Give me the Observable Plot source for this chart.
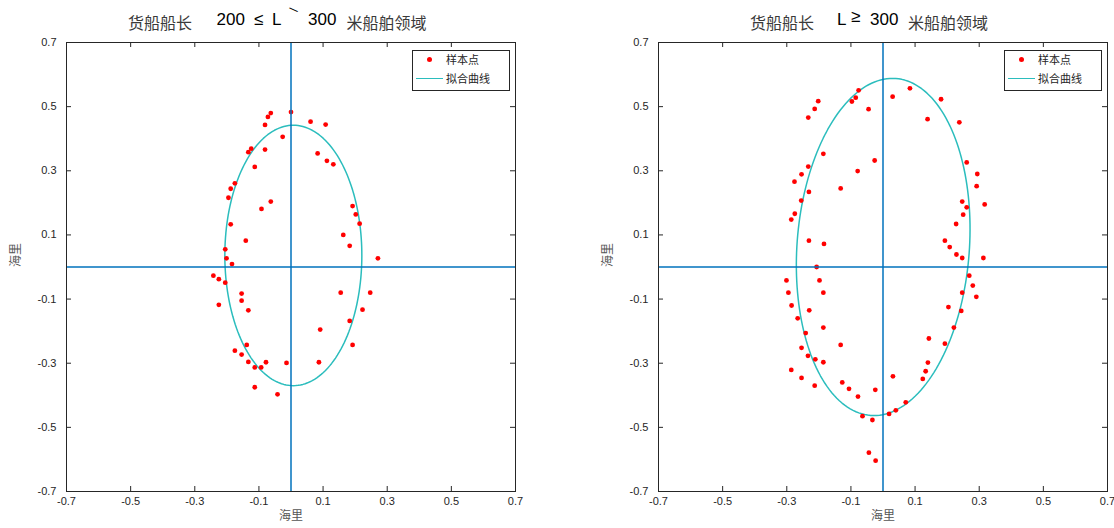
<!DOCTYPE html>
<html>
<head>
<meta charset="utf-8">
<script src="https://cdn.jsdelivr.net/npm/d3@7"></script>
<script src="https://cdn.jsdelivr.net/npm/@observablehq/plot@0.6"></script>
<style>
  html, body { margin: 0; padding: 0; background: #fff; }
  #root { position: relative; width: 1114px; height: 528px; overflow: hidden; background: #fff; }
  .chart { position: absolute; top: 0; }
  .t { position: absolute; white-space: pre; line-height: normal; }
  .cjk { font-family: "Noto Sans CJK SC", sans-serif; font-size: 16px; color: #3a3a3a; }
  .num { font-family: "Liberation Sans", Arial, sans-serif; font-size: 17px; color: #000; }
  .legend { position: absolute; width: 96px; height: 39px; border: 1px solid #262626; background: #fff; }
  .legend .lt { position: absolute; left: 33px; font-family: "Noto Sans CJK SC", sans-serif; font-size: 11px; color: #262626; line-height: normal; white-space: pre; }
  .legend .dotsw { position: absolute; left: 14px; top: 6px; width: 5px; height: 5px; border-radius: 50%; background: #ff0000; }
  .legend .linesw { position: absolute; left: 3px; top: 27px; width: 27px; height: 0; border-top: 1.5px solid #2bbdbd; }
</style>
</head>
<body>
<div id="root"></div>
<script>
// ---------- data ----------
const xTicks = [-0.7, -0.5, -0.3, -0.1, 0.1, 0.3, 0.5, 0.7];
const yTicks = [-0.7, -0.5, -0.3, -0.1, 0.1, 0.3, 0.5, 0.7];

// Left: 200 <= L ~ 300 sample points (nautical miles)
const leftX = [0.000, -0.063, -0.072, -0.081, 0.061, 0.108, -0.026, 0.083, 0.112, 0.132,
  -0.124, -0.133, -0.081, -0.113, -0.175, -0.188, -0.195, -0.063, -0.092, -0.188,
  -0.141, 0.192, 0.202, 0.214, 0.163, 0.183, 0.271, -0.205, -0.201, -0.184,
  -0.242, -0.225, -0.205, -0.154, -0.154, -0.225, -0.133, -0.138, -0.175, -0.154,
  -0.133, -0.078, -0.113, -0.093, -0.014, -0.113, -0.042, 0.087, 0.091, 0.155,
  0.247, 0.223, 0.183, 0.192];
const leftY = [0.483, 0.480, 0.468, 0.443, 0.453, 0.444, 0.406, 0.354, 0.331, 0.320,
  0.369, 0.358, 0.366, 0.312, 0.261, 0.244, 0.216, 0.204, 0.181, 0.133,
  0.082, 0.190, 0.164, 0.135, 0.100, 0.066, 0.027, 0.055, 0.027, 0.009,
  -0.027, -0.038, -0.049, -0.083, -0.105, -0.118, -0.135, -0.243, -0.261, -0.273,
  -0.296, -0.297, -0.313, -0.313, -0.299, -0.375, -0.397, -0.297, -0.195, -0.080,
  -0.080, -0.133, -0.168, -0.243];

// Right: L >= 300 sample points
const rightX = [-0.076, -0.085, -0.097, -0.202, -0.213, -0.233, -0.045, 0.030, 0.084, 0.181,
  0.139, 0.238, -0.186, -0.026, -0.233, -0.254, -0.276, -0.079, -0.132, -0.231,
  -0.255, -0.275, -0.286, -0.231, -0.184, 0.261, 0.294, 0.292, 0.247, 0.261,
  0.317, 0.250, 0.228, 0.193, 0.208, 0.229, 0.247, 0.313, -0.207, 0.269,
  -0.301, -0.198, -0.295, -0.186, -0.285, -0.230, -0.266, -0.241, -0.186, -0.132,
  -0.254, -0.234, -0.211, -0.186, -0.286, -0.254, -0.213, -0.127, -0.106, -0.078,
  -0.024, -0.064, -0.033, -0.044, -0.023, 0.019, 0.040, 0.071, 0.031, 0.124,
  0.133, 0.140, 0.143, 0.193, 0.221, 0.204, 0.244, 0.247, 0.280, 0.291];
const rightY = [0.551, 0.528, 0.516, 0.517, 0.493, 0.466, 0.492, 0.531, 0.557, 0.523,
  0.461, 0.451, 0.353, 0.332, 0.313, 0.289, 0.266, 0.299, 0.245, 0.234,
  0.207, 0.166, 0.148, 0.082, 0.072, 0.326, 0.290, 0.252, 0.204, 0.186,
  0.195, 0.163, 0.134, 0.082, 0.062, 0.039, 0.028, 0.028, 0.000, -0.027,
  -0.042, -0.042, -0.080, -0.080, -0.120, -0.135, -0.160, -0.206, -0.189, -0.243,
  -0.252, -0.277, -0.288, -0.297, -0.321, -0.346, -0.370, -0.360, -0.380, -0.404,
  -0.383, -0.465, -0.477, -0.579, -0.604, -0.458, -0.447, -0.422, -0.341, -0.349,
  -0.325, -0.298, -0.223, -0.239, -0.189, -0.125, -0.137, -0.080, -0.058, -0.093];

// Fitted ellipses: [centre x, centre y, semi-minor, semi-major, tilt of major axis (deg)]
const leftFit = [0.0073, 0.036, 0.2136, 0.406, 0];
const rightFit = [0.0006, 0.0625, 0.2687, 0.5267, 4.26];

// ---------- drawing ----------
const H = 528, W = 557, MT = 42, MB = 37;
const FH = H - MT - MB;

function ellipse(fit) {
  const [cx, cy, a, b, tilt] = fit;
  const al = tilt * Math.PI / 180;
  return d3.range(0, 361, 2).map(deg => {
    const t = deg * Math.PI / 180;
    return {
      x: cx + b * Math.cos(t) * Math.sin(al) + a * Math.sin(t) * Math.cos(al),
      y: cy + b * Math.cos(t) * Math.cos(al) - a * Math.sin(t) * Math.sin(al)
    };
  });
}

function chart(xs, ys, fit, ml, mr) {
  const FW = W - ml - mr;
  const pts = xs.map((x, i) => ({x, y: ys[i]}));
  const fmt = d => String(d);
  return Plot.plot({
    width: W, height: H,
    marginLeft: ml, marginRight: mr, marginTop: MT, marginBottom: MB,
    style: {fontFamily: "'Liberation Sans', Arial, sans-serif", fontSize: "11px", color: "#262626", background: "transparent"},
    x: {domain: [-0.7, 0.7], ticks: xTicks, tickSize: 0, tickPadding: 6, tickFormat: fmt, label: null},
    y: {domain: [-0.7, 0.7], ticks: yTicks, tickSize: 0, tickPadding: 10, tickFormat: fmt, label: null},
    marks: [
      Plot.line(ellipse(fit), {x: "x", y: "y", stroke: "#2bbdbd", strokeWidth: 1.5}),
      Plot.dot(pts, {x: "x", y: "y", r: 2.4, fill: "#ff0000"}),
      Plot.ruleX([0], {stroke: "#0072bd", strokeWidth: 1.5}),
      Plot.ruleY([0], {stroke: "#0072bd", strokeWidth: 1.5}),
      Plot.tickX(xTicks, {x: d => d, insetTop: FH - 5, stroke: "#262626"}),
      Plot.tickX(xTicks, {x: d => d, insetBottom: FH - 5, stroke: "#262626"}),
      Plot.tickY(yTicks, {y: d => d, insetRight: FW - 5, stroke: "#262626"}),
      Plot.tickY(yTicks, {y: d => d, insetLeft: FW - 5, stroke: "#262626"}),
      Plot.frame({stroke: "#262626"}),
      Plot.text(["海里"], {frameAnchor: "bottom", dy: 28, fontSize: 12, fontFamily: "Noto Sans CJK SC", fill: "#555"}),
      Plot.text(["海里"], {frameAnchor: "left", dx: -50, rotate: -90, fontSize: 12, fontFamily: "Noto Sans CJK SC", fill: "#555"})
    ]
  });
}

const root = document.getElementById("root");

const c1 = chart(leftX, leftY, leftFit, 66, 42);
c1.classList.add("chart"); c1.style.left = "0px";
root.appendChild(c1);

const c2 = chart(rightX, rightY, rightFit, 101, 7);
c2.classList.add("chart"); c2.style.left = "557px";
root.appendChild(c2);

// titles
function span(cls, text, left, top, extra) {
  const s = document.createElement("div");
  s.className = "t " + cls;
  s.textContent = text;
  s.style.left = left + "px";
  s.style.top = top + "px";
  if (extra) Object.assign(s.style, extra);
  root.appendChild(s);
}
span("cjk", "货船船长", 128, 10);
span("num", "200", 216.5, 9.6);
span("num", "≤", 254, 9.6);
span("num", "L", 272, 9.6);
span("num", "\\", 292, 3, {fontSize: "12px", transform: "rotate(-50deg)"});
span("num", "300", 308, 9.6);
span("cjk", "米船舶领域", 346.5, 10);

span("cjk", "货船船长", 750, 10);
span("num", "L", 837, 9.6);
span("num", "≥", 851, 6.6);
span("num", "300", 870, 9.6);
span("cjk", "米船舶领域", 908, 10);

// legends
function legend(left) {
  const box = document.createElement("div");
  box.className = "legend";
  box.style.left = left + "px";
  box.style.top = "50px";
  box.innerHTML = '<div class="dotsw"></div><div class="lt" style="top:0px">样本点</div>' +
    '<div class="linesw"></div><div class="lt" style="top:19px">拟合曲线</div>';
  root.appendChild(box);
}
legend(412);
legend(1004);
</script>
</body>
</html>
